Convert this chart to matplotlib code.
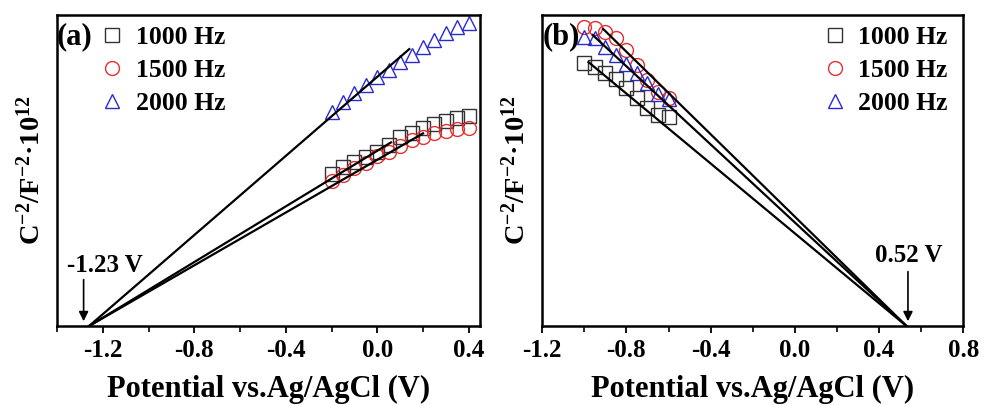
import matplotlib
matplotlib.use('Agg')
import matplotlib.pyplot as plt
from matplotlib.ticker import MultipleLocator, FormatStrFormatter

plt.rcParams['font.family'] = 'Liberation Serif'
plt.rcParams['font.weight'] = 'bold'
plt.rcParams['mathtext.fontset'] = 'custom'
plt.rcParams['mathtext.rm'] = 'Liberation Serif:bold'
plt.rcParams['mathtext.bf'] = 'Liberation Serif:bold'
plt.rcParams['mathtext.it'] = 'Liberation Serif:bold'

freqs = ['1000 Hz', '1500 Hz', '2000 Hz']
markers = ['s', 'o', '^']
colors = ['#333333', '#e03030', '#2a2ad0']

# panel (a): C^-2 (arbitrary units) vs potential
xa = [-0.2, -0.15, -0.1, -0.05, 0.0, 0.05, 0.1, 0.15, 0.2, 0.25, 0.3, 0.35, 0.4]
ya_1000 = [1.52, 1.58, 1.63, 1.68, 1.73, 1.80, 1.88, 1.92, 1.97, 2.01, 2.04, 2.07, 2.09]
ya_1500 = [1.45, 1.51, 1.57, 1.62, 1.69, 1.73, 1.79, 1.85, 1.88, 1.92, 1.94, 1.96, 1.97]
ya_2000 = [2.13, 2.23, 2.32, 2.40, 2.48, 2.55, 2.63, 2.70, 2.78, 2.85, 2.92, 2.98, 3.02]
# linear fits: x-intercept and end point
fit_a_x0 = -1.26
fit_a_end_x = [0.06, 0.20, 0.14]
fit_a_end_y = [1.83, 1.92, 2.76]

# panel (b)
xb = [-1.0, -0.95, -0.9, -0.85, -0.8, -0.75, -0.7, -0.65, -0.6]
yb_1000 = [2.62, 2.58, 2.52, 2.46, 2.37, 2.27, 2.17, 2.10, 2.08]
yb_1500 = [2.98, 2.97, 2.93, 2.87, 2.75, 2.60, 2.45, 2.33, 2.27]
yb_2000 = [2.88, 2.87, 2.78, 2.70, 2.61, 2.52, 2.42, 2.31, 2.26]
fit_b_x0 = 0.53
fit_b_end_x = [-0.98, -0.91, -0.96]
fit_b_end_y = [2.63, 2.96, 2.90]

fig = plt.figure(figsize=(9.84, 4.05), dpi=100)
ax1 = fig.add_axes([0.058, 0.195, 0.430, 0.768])
ax2 = fig.add_axes([0.551, 0.195, 0.428, 0.768])

ylab = r'C$^{-2}$/F$^{-2}$' + '\u00b7' + r'10$^{12}$'


def style(ax, xlim, ticks):
    ax.set_xlim(*xlim)
    ax.set_ylim(0, 3.1)
    ax.set_xticks(ticks)
    ax.xaxis.set_minor_locator(MultipleLocator(0.2))
    ax.xaxis.set_major_formatter(FormatStrFormatter('%.1f'))
    ax.set_yticks([])
    ax.tick_params(axis='x', which='major', direction='out', length=5, width=1.3,
                   labelsize=18, pad=4, top=False)
    ax.tick_params(axis='x', which='minor', direction='out', length=4, width=1.2, top=False)
    for s in ax.spines.values():
        s.set_linewidth(1.8)
    ax.set_xlabel('Potential vs.Ag/AgCl (V)', fontsize=22, fontweight='bold', labelpad=10)
    ax.set_ylabel(ylab, fontsize=20.5, fontweight='bold', labelpad=8)


legend_kw = dict(frameon=False, handletextpad=0.4, labelspacing=0.38, handlelength=1.0,
                 borderaxespad=0.2, prop={'weight': 'bold', 'size': 18.5})

# (a)
for y, m, c, f in zip([ya_1000, ya_1500, ya_2000], markers, colors, freqs):
    ax1.plot(xa, y, m, ms=10, mfc='none', mec=c, mew=1.0, label=f)
for ex, ey in zip(fit_a_end_x, fit_a_end_y):
    ax1.plot([fit_a_x0, ex], [0, ey], color='black', lw=1.6)
style(ax1, (-1.4, 0.45), [-1.2, -0.8, -0.4, 0.0, 0.4])
ax1.annotate('', xy=(-1.284, 0.02), xytext=(-1.284, 0.49),
             arrowprops=dict(arrowstyle='-|>', color='black', lw=1.2, mutation_scale=14))
ax1.text(-1.19, 0.60, '-1.23 V', fontsize=18, fontweight='bold', ha='center', va='center')
ax1.text(0.0, 0.93, '(a)', transform=ax1.transAxes, fontsize=22, fontweight='bold',
         va='center', ha='left')
ax1.legend(loc='upper left', bbox_to_anchor=(0.064, 1.014), **legend_kw)

# (b)
for y, m, c, f in zip([yb_1000, yb_1500, yb_2000], markers, colors, freqs):
    ax2.plot(xb, y, m, ms=10, mfc='none', mec=c, mew=1.0, label=f)
for ex, ey in zip(fit_b_end_x, fit_b_end_y):
    ax2.plot([fit_b_x0, ex], [0, ey], color='black', lw=1.6)
style(ax2, (-1.2, 0.8), [-1.2, -0.8, -0.4, 0.0, 0.4, 0.8])
ax2.annotate('', xy=(0.537, 0.02), xytext=(0.537, 0.57),
             arrowprops=dict(arrowstyle='-|>', color='black', lw=1.2, mutation_scale=14))
ax2.text(0.54, 0.70, '0.52 V', fontsize=18, fontweight='bold', ha='center', va='center')
ax2.text(0.0, 0.93, '(b)', transform=ax2.transAxes, fontsize=22, fontweight='bold',
         va='center', ha='left')
ax2.legend(loc='upper right', bbox_to_anchor=(1.0, 1.014), **legend_kw)

fig.savefig('out.png', dpi=100)
